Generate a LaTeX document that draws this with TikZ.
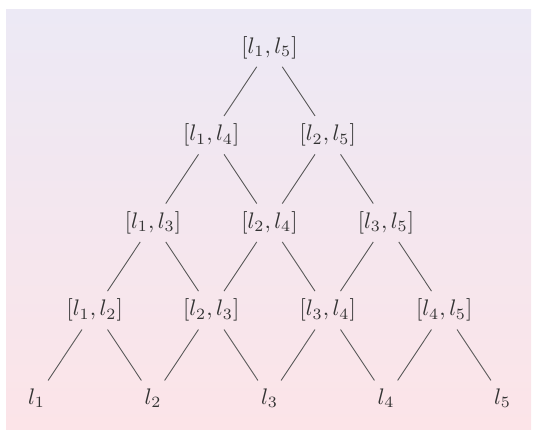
\documentclass[tikz,border=0pt]{standalone}
\usetikzlibrary{positioning,backgrounds}
\definecolor{lavtop}{RGB}{236,233,245}
\definecolor{pinkbot}{RGB}{252,228,232}

\begin{document}
\begin{tikzpicture}[x=0.9099cm,y=1.368cm,
  every node/.style={text=black!80},
  edge/.style={black!65}]
\useasboundingbox (-0.6266,-0.468) rectangle (8.712,4.543);
\shade[top color=lavtop,bottom color=pinkbot] (-0.5236,-0.365) rectangle (8.489,4.429);
% leaves
\node (l1) at (0,0) {$l_1$};
\node (l2) at (2,0) {$l_2$};
\node (l3) at (4,0) {$l_3$};
\node (l4) at (6,0) {$l_4$};
\node (l5) at (8,0) {$l_5$};
% intervals
\node (l12) at (1,1) {$[l_1,l_2]$};
\node (l23) at (3,1) {$[l_2,l_3]$};
\node (l34) at (5,1) {$[l_3,l_4]$};
\node (l45) at (7,1) {$[l_4,l_5]$};
\node (l13) at (2,2) {$[l_1,l_3]$};
\node (l24) at (4,2) {$[l_2,l_4]$};
\node (l35) at (6,2) {$[l_3,l_5]$};
\node (l14) at (3,3) {$[l_1,l_4]$};
\node (l25) at (5,3) {$[l_2,l_5]$};
\node (l15) at (4,4) {$[l_1,l_5]$};
\draw[edge] (l15) -- (l14) (l15) -- (l25);
\draw[edge] (l14) -- (l13) (l14) -- (l24) (l25) -- (l24) (l25) -- (l35);
\draw[edge] (l13) -- (l12) (l13) -- (l23) (l24) -- (l23) (l24) -- (l34)
  (l35) -- (l34) (l35) -- (l45);
\draw[edge] (l12) -- (l1) (l12) -- (l2) (l23) -- (l2) (l23) -- (l3)
  (l34) -- (l3) (l34) -- (l4) (l45) -- (l4) (l45) -- (l5);
\end{tikzpicture}
\end{document}
